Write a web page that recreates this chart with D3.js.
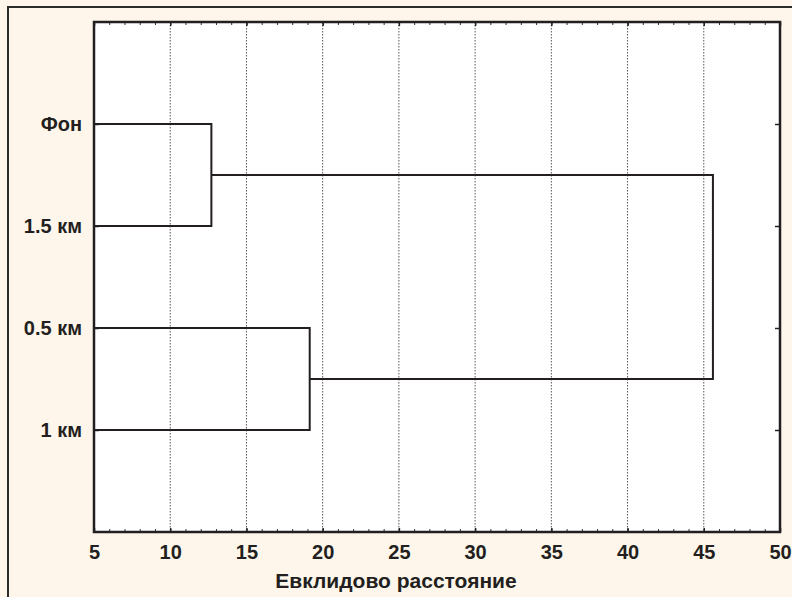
<!DOCTYPE html>
<html>
<head>
<meta charset="utf-8">
<script src="https://cdn.jsdelivr.net/npm/d3@7/dist/d3.min.js"></script>
<style>
  html, body { margin: 0; padding: 0; background: #fef6ea; }
  svg { display: block; }
  text { font-family: "Liberation Sans", Arial, sans-serif; font-weight: bold; fill: #231f20; }
</style>
</head>
<body>
<svg id="chart" width="792" height="597"></svg>
<script>
// Leaves of the dendrogram, top to bottom
const leaves = ["Фон", "1.5 км", "0.5 км", "1 км"];
// Merge steps: [left child, right child, linkage distance]; children are leaf names or merge ids
const mergeIds = ["m1", "m2", "m3"];
const mergeLeft = ["Фон", "0.5 км", "m1"];
const mergeRight = ["1.5 км", "1 км", "m2"];
const mergeDist = [12.7, 19.15, 45.6];
// Axis ticks
const xTicks = [5, 10, 15, 20, 25, 30, 35, 40, 45, 50];
const xMinorTicks = d3.range(5, 51, 1);
const xTitle = "Евклидово расстояние";

const svg = d3.select("#chart");
const W = 792, H = 597;
const plot = { left: 94, top: 22, right: 780, bottom: 532 };
const FS = 20;

// Outer frame
svg.append("rect")
  .attr("x", 8).attr("y", 7).attr("width", W).attr("height", H)
  .attr("fill", "#fef6ea").attr("stroke", "#2b2b2b").attr("stroke-width", 2);

const x = d3.scaleLinear().domain([5, 50]).range([plot.left, plot.right]);
const y = d3.scalePoint().domain(leaves).range([plot.top, plot.bottom]).padding(1);

// Plot background
svg.append("rect")
  .attr("x", plot.left).attr("y", plot.top)
  .attr("width", plot.right - plot.left).attr("height", plot.bottom - plot.top)
  .attr("fill", "#ffffff");

// Dotted vertical grid at major ticks
svg.append("g").selectAll("line")
  .data(xTicks.filter(t => t > 5 && t < 50))
  .join("line")
  .attr("x1", d => x(d)).attr("x2", d => x(d))
  .attr("y1", plot.top).attr("y2", plot.bottom)
  .attr("stroke", "#555").attr("stroke-width", 1)
  .attr("stroke-dasharray", "1.5,1.5");

const styleText = g => g.selectAll("text")
  .attr("font-size", FS).attr("fill", "#231f20")
  .attr("font-family", "Liberation Sans, Arial, sans-serif").attr("font-weight", "bold");

// Bottom axis: minor ticks inside, labels below
svg.append("g").attr("transform", `translate(0,${plot.bottom})`)
  .call(d3.axisBottom(x).tickValues(xMinorTicks).tickSize(-3).tickFormat(""))
  .call(g => g.select(".domain").remove())
  .call(g => g.selectAll("line").attr("stroke", "#333"));
svg.append("g").attr("transform", `translate(0,${plot.bottom})`)
  .call(d3.axisBottom(x).tickValues(xTicks).tickSize(-4).tickPadding(13))
  .call(g => g.select(".domain").remove())
  .call(g => g.selectAll("line").attr("stroke", "#222").attr("stroke-width", 1.5))
  .call(styleText);

// Top axis: minor ticks inside
svg.append("g").attr("transform", `translate(0,${plot.top})`)
  .call(d3.axisTop(x).tickValues(xMinorTicks).tickSize(-3).tickFormat(""))
  .call(g => g.select(".domain").remove())
  .call(g => g.selectAll("line").attr("stroke", "#333"));
svg.append("g").attr("transform", `translate(0,${plot.top})`)
  .call(d3.axisTop(x).tickValues(xTicks).tickSize(-4).tickFormat(""))
  .call(g => g.select(".domain").remove())
  .call(g => g.selectAll("line").attr("stroke", "#222").attr("stroke-width", 1.5));

// Left axis with leaf labels, ticks inside
svg.append("g").attr("transform", `translate(${plot.left},0)`)
  .call(d3.axisLeft(y).tickSize(-5).tickPadding(12))
  .call(g => g.select(".domain").remove())
  .call(g => g.selectAll("line").attr("stroke", "#222").attr("stroke-width", 1.5))
  .call(styleText);

// Right axis ticks inside
svg.append("g").attr("transform", `translate(${plot.right},0)`)
  .call(d3.axisRight(y).tickSize(-5).tickFormat(""))
  .call(g => g.select(".domain").remove())
  .call(g => g.selectAll("line").attr("stroke", "#222").attr("stroke-width", 1.5));

// Plot frame
svg.append("rect")
  .attr("x", plot.left).attr("y", plot.top)
  .attr("width", plot.right - plot.left).attr("height", plot.bottom - plot.top)
  .attr("fill", "none").attr("stroke", "#231f20").attr("stroke-width", 2.5);

// Dendrogram links
const node = {};
leaves.forEach(l => { node[l] = { x: x(5), y: y(l) }; });
const links = [];
mergeIds.forEach((id, i) => {
  const a = node[mergeLeft[i]], b = node[mergeRight[i]];
  const xm = x(mergeDist[i]);
  links.push([[a.x, a.y], [xm, a.y], [xm, b.y], [b.x, b.y]]);
  node[id] = { x: xm, y: (a.y + b.y) / 2 };
});
svg.append("g").selectAll("path")
  .data(links)
  .join("path")
  .attr("d", d3.line())
  .attr("fill", "none")
  .attr("stroke", "#231f20")
  .attr("stroke-width", 2);

// Axis title
svg.append("text")
  .attr("x", 396).attr("y", 588)
  .attr("text-anchor", "middle")
  .attr("font-size", 21)
  .text(xTitle);
</script>
</body>
</html>
